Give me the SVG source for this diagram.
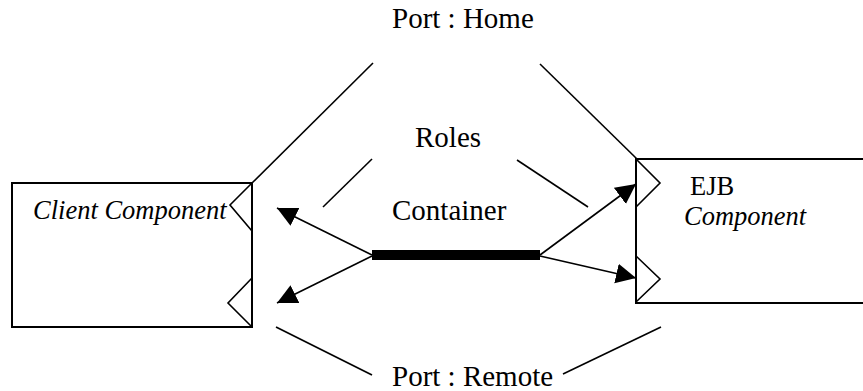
<svg xmlns="http://www.w3.org/2000/svg" width="863" height="391" viewBox="0 0 863 391">
<style>
.box{fill:#fff;stroke:#000;stroke-width:2}
.ln{fill:none;stroke:#000;stroke-width:1.6}
text{font-family:'Liberation Serif','DejaVu Serif','Noto Serif',serif;fill:#000}
.t{font-size:29px}
.ti{font-size:26.5px;font-style:italic}
.tu{font-size:26.5px}
</style>
<defs>
<marker id="ah" markerUnits="userSpaceOnUse" markerWidth="21" markerHeight="21" refX="20" refY="10" orient="auto" viewBox="0 0 21 21">
<path d="M0,0 L20,10 L0,20 z" fill="#000"/>
</marker>
</defs>
<rect width="863" height="391" fill="#fff"/>
<g id="client">
<rect class="box" x="12" y="183" width="240" height="144"/>
<polyline class="ln" points="252,183 230,205 252,231"/>
<polyline class="ln" points="252,278 228,303 252,327"/>
<text class="ti" x="33" y="219" font-family="Liberation Serif">Client Component</text>
</g>
<g id="ejb">
<path class="box" d="M870,159 L636,159 L636,303 L870,303"/>
<polyline class="ln" points="636,159 660,183 636,207"/>
<polyline class="ln" points="636,256 660,279 636,302"/>
<text class="tu" x="690" y="195" font-family="Liberation Serif">EJB</text>
<text class="ti" x="684" y="225" font-family="Liberation Serif">Component</text>
</g>
<g id="container">
<rect x="372" y="250" width="168" height="10" fill="#000"/>
<text class="t" x="392" y="220" font-family="Liberation Serif">Container</text>
</g>
<g id="labels">
<text class="t" x="392" y="28" font-family="Liberation Serif">Port : Home</text>
<text class="t" x="415" y="147" font-family="Liberation Serif">Roles</text>
<text class="t" x="392" y="386" font-family="Liberation Serif">Port : Remote</text>
</g>
<g id="connectors">
<line class="ln" x1="252" y1="183" x2="373" y2="63"/>
<line class="ln" x1="540" y1="64" x2="637" y2="159"/>
<line class="ln" x1="372" y1="159" x2="323" y2="207"/>
<line class="ln" x1="517" y1="160" x2="588" y2="207"/>
<line class="ln" x1="276" y1="327" x2="372" y2="375"/>
<line class="ln" x1="563" y1="374" x2="661" y2="327"/>
<line class="ln" x1="372" y1="255" x2="277" y2="208" marker-end="url(#ah)"/>
<line class="ln" x1="372" y1="256" x2="277" y2="303" marker-end="url(#ah)"/>
<line class="ln" x1="540" y1="255" x2="636" y2="184" marker-end="url(#ah)"/>
<line class="ln" x1="540" y1="256" x2="636" y2="278" marker-end="url(#ah)"/>
</g>
</svg>
